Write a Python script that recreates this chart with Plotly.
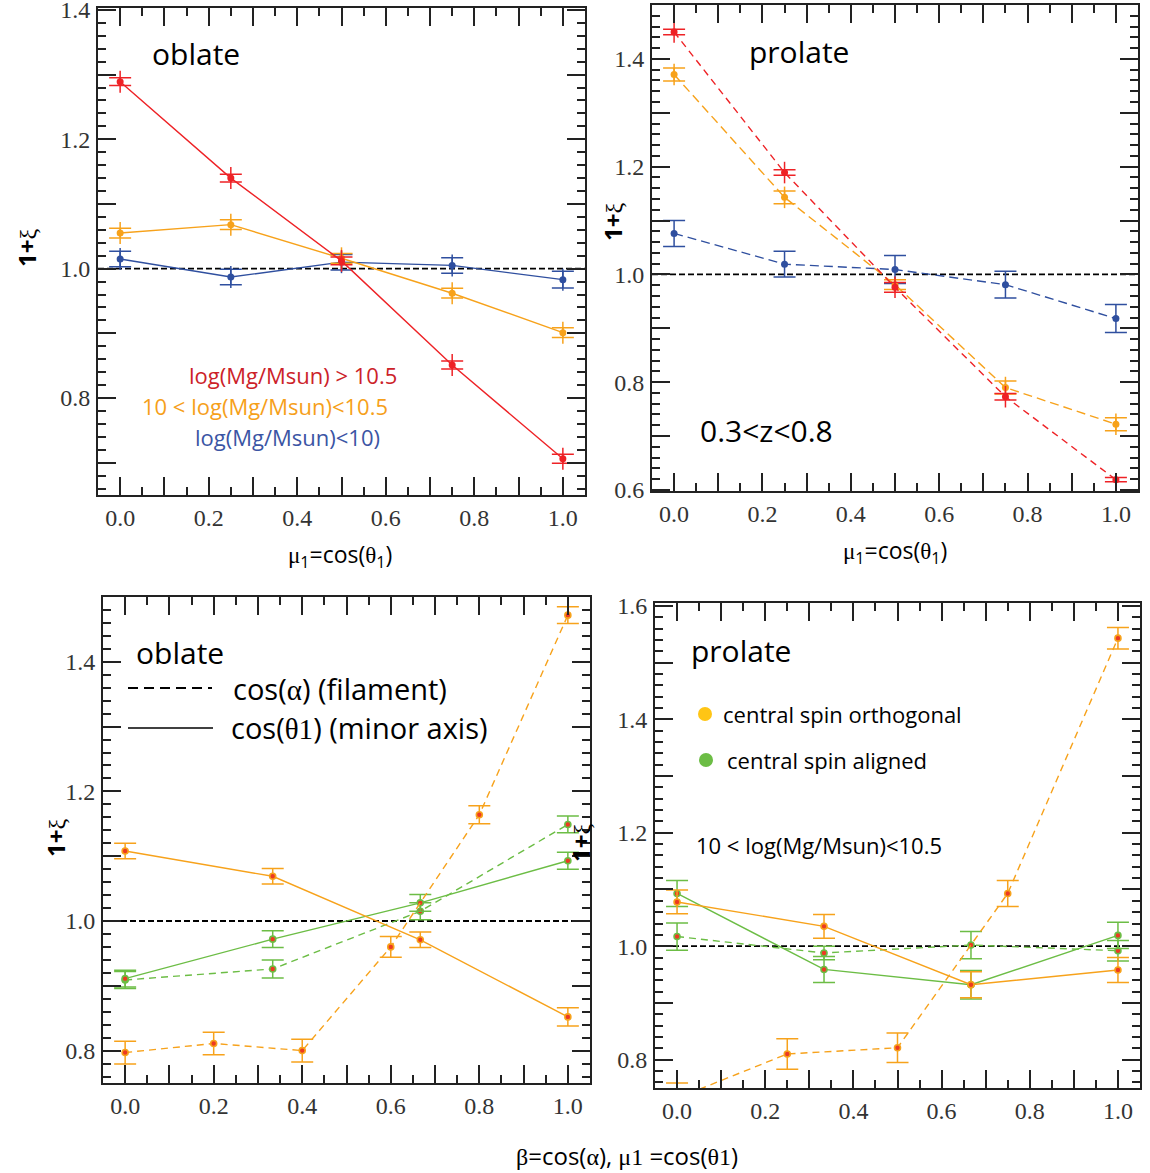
import plotly.graph_objects as go

W, H = 1150, 1173

# ---------------- data ----------------
mu = [0.0, 0.25, 0.5, 0.75, 1.0]

# top-left: oblate, 1+xi vs mu1 (three stellar-mass bins)
tl_red = [1.289, 1.140, 1.012, 0.851, 0.706]
tl_orange = [1.055, 1.068, 1.016, 0.962, 0.901]
tl_blue = [1.015, 0.987, 1.010, 1.005, 0.983]
tl_red_err = [0.017, 0.017, 0.017, 0.017, 0.017]
tl_red_cap = [0.006, 0.006, 0.006, 0.006, 0.007]
tl_orange_err = [0.017, 0.017, 0.017, 0.017, 0.017]
tl_orange_cap = [0.0075, 0.0075, 0.0075, 0.0075, 0.0075]
tl_blue_err = [0.017, 0.017, 0.017, 0.017, 0.017]
tl_blue_cap = [0.012, 0.012, 0.012, 0.012, 0.013]

# top-right: prolate
tr_red = [1.450, 1.189, 0.976, 0.773, 0.619]
tr_orange = [1.371, 1.143, 0.981, 0.790, 0.722]
tr_blue = [1.076, 1.019, 1.009, 0.981, 0.918]
tr_red_err = [0.02, 0.02, 0.02, 0.02, 0.012]
tr_red_cap = [0.005, 0.005, 0.009, 0.006, 0.004]
tr_orange_err = [0.02, 0.02, 0.012, 0.02, 0.02]
tr_orange_cap = [0.012, 0.012, 0.009, 0.012, 0.012]
tr_blue_err = [0.024, 0.024, 0.026, 0.025, 0.026]

# bottom panels: x = beta = cos(alpha) or mu1 = cos(theta1)
b3 = [0.0, 1 / 3, 2 / 3, 1.0]
b5 = [0.0, 0.2, 0.4, 0.6, 0.8, 1.0]
b4 = [0.0, 0.25, 0.5, 0.75, 1.0]

# bottom-left: oblate
bl_orth_theta = [1.108, 1.069, 0.971, 0.852]
bl_orth_theta_err = [0.012, 0.012, 0.012, 0.014]
bl_align_theta = [0.911, 0.972, 1.028, 1.093]
bl_align_theta_err = [0.013, 0.013, 0.013, 0.013]
bl_align_alpha = [0.909, 0.926, 1.015, 1.149]
bl_align_alpha_err = [0.013, 0.014, 0.013, 0.013]
bl_orth_alpha = [0.797, 0.811, 0.800, 0.960, 1.164, 1.472]
bl_orth_alpha_err = [0.0175, 0.0175, 0.0175, 0.016, 0.014, 0.013]

# bottom-right: prolate
br_orth_theta = [1.078, 1.035, 0.932, 0.958]
br_orth_theta_err = [0.021, 0.021, 0.023, 0.022]
br_align_theta = [1.093, 0.959, 0.932, 1.019]
br_align_theta_err = [0.023, 0.023, 0.025, 0.023]
br_align_alpha = [1.017, 0.988, 1.002, 0.992]
br_align_alpha_err = [0.024, 0.012, 0.024, 0.018]
br_orth_alpha = [0.732, 0.810, 0.821, 1.093, 1.543]
br_orth_alpha_err = [0.027, 0.027, 0.026, 0.023, 0.019]

# ticks
x_tickvals = [0.0, 0.1, 0.2, 0.3, 0.4, 0.5, 0.6, 0.7, 0.8, 0.9, 1.0]
x_ticktext = ["0.0", "", "0.2", "", "0.4", "", "0.6", "", "0.8", "", "1.0"]
y_tickvals = [0.6, 0.7, 0.8, 0.9, 1.0, 1.1, 1.2, 1.3, 1.4, 1.5, 1.6]
y_ticktext = ["0.6", "", "0.8", "", "1.0", "", "1.2", "", "1.4", "", "1.6"]

# ---------------- style ----------------
RED = "#ee2226"
ORANGE = "#f7a21b"
BLUE = "#2f4f9f"
GREEN = "#6cbd45"
YELLOW = "#ffc515"
SANS = "Open Sans"
SERIF = "Liberation Serif"

fig = go.Figure()


def px(xp):
    return xp / W


def py(yp):
    return 1 - yp / H


def add_series(ax, xs, ys, err, color, dash, cap=None, marker="solid", capw=11):
    xa = "x" if ax == 1 else "x%d" % ax
    ya = "y" if ax == 1 else "y%d" % ax
    if marker == "solid":
        mk = dict(size=7, color=color, line=dict(width=0))
    else:
        mk = dict(size=6, color="#ec3a22", line=dict(width=1.6, color=color))
    fig.add_trace(go.Scatter(
        x=xs, y=ys, xaxis=xa, yaxis=ya, mode="lines+markers",
        line=dict(color=color, width=1.4, dash=dash), marker=mk,
        error_y=dict(type="data", array=err, visible=True, color=color,
                     thickness=1.5, width=0 if cap is not None else capw),
        hoverinfo="skip"))
    if cap is not None:
        fig.add_trace(go.Scatter(
            x=xs, y=ys, xaxis=xa, yaxis=ya, mode="markers",
            marker=dict(size=1, color="rgba(0,0,0,0)"),
            error_y=dict(type="data", array=cap, visible=True, color=color,
                         thickness=1.5, width=capw),
            hoverinfo="skip"))


# reference lines at 1 (drawn first)
for ax in (1, 2, 3, 4):
    xa = "x" if ax == 1 else "x%d" % ax
    ya = "y" if ax == 1 else "y%d" % ax
    fig.add_trace(go.Scatter(x=[-0.05, 1.05], y=[1.0, 1.0], xaxis=xa, yaxis=ya,
                             mode="lines", line=dict(color="black", width=1.8, dash="6px,3px"),
                             hoverinfo="skip"))

# top-left
add_series(1, mu, tl_blue, tl_blue_err, BLUE, "solid", cap=tl_blue_cap)
add_series(1, mu, tl_orange, tl_orange_err, ORANGE, "solid", cap=tl_orange_cap)
add_series(1, mu, tl_red, tl_red_err, RED, "solid", cap=tl_red_cap)
# top-right
add_series(2, mu, tr_blue, tr_blue_err, BLUE, "9px,5px")
add_series(2, mu, tr_orange, tr_orange_err, ORANGE, "9px,5px", cap=tr_orange_cap)
add_series(2, mu, tr_red, tr_red_err, RED, "7px,5px", cap=tr_red_cap)
# bottom-left
add_series(3, b3, bl_align_alpha, bl_align_alpha_err, GREEN, "7px,5px", marker="ring")
add_series(3, b3, bl_align_theta, bl_align_theta_err, GREEN, "solid", marker="ring")
add_series(3, b5, bl_orth_alpha, bl_orth_alpha_err, ORANGE, "7px,5px", marker="ring")
add_series(3, b3, bl_orth_theta, bl_orth_theta_err, ORANGE, "solid", marker="ring")
# bottom-right
add_series(4, b3, br_align_alpha, br_align_alpha_err, GREEN, "7px,5px", marker="ring")
add_series(4, b3, br_align_theta, br_align_theta_err, GREEN, "solid", marker="ring")
add_series(4, b4, br_orth_alpha, br_orth_alpha_err, ORANGE, "7px,5px", marker="ring")
add_series(4, b3, br_orth_theta, br_orth_theta_err, ORANGE, "solid", marker="ring")

# ---------------- axes ----------------
panels = {
    1: dict(x=(98, 585), y=(8, 495), yr=(0.65, 1.403)),
    2: dict(x=(652, 1138), y=(5, 491), yr=(0.598, 1.50)),
    3: dict(x=(103, 590), y=(597, 1083), yr=(0.75, 1.50)),
    4: dict(x=(655, 1140), y=(603, 1088), yr=(0.75, 1.605)),
}
tickfont = dict(family=SERIF, size=24, color="#333333")
common = dict(showline=True, linecolor="#222222", linewidth=2, mirror="allticks",
              ticks="inside", tickcolor="#222222", tickwidth=1.5, ticklen=18,
              showgrid=False, zeroline=False, tickfont=tickfont, automargin=False,
              ticklabeloverflow="allow")
for k, p in panels.items():
    xn = "xaxis" if k == 1 else "xaxis%d" % k
    yn = "yaxis" if k == 1 else "yaxis%d" % k
    ya = "y" if k == 1 else "y%d" % k
    xa = "x" if k == 1 else "x%d" % k
    fig.layout[xn] = dict(
        domain=[px(p["x"][0]), px(p["x"][1])], anchor=ya, range=[-0.05, 1.05],
        tickmode="array", tickvals=x_tickvals, ticktext=x_ticktext,
        ticklabelstandoff=0,
        minor=dict(ticks="inside", dtick=0.05, tick0=0, ticklen=8,
                   tickcolor="#222222", tickwidth=1.5, showgrid=False),
        **common)
    fig.layout[yn] = dict(
        domain=[py(p["y"][1]), py(p["y"][0])], anchor=xa, range=list(p["yr"]),
        tickmode="array", tickvals=y_tickvals, ticktext=y_ticktext,
        ticklabelstandoff=1,
        minor=dict(ticks="inside", dtick=0.02, tick0=0, ticklen=8,
                   tickcolor="#222222", tickwidth=1.5, showgrid=False),
        **common)

# ---------------- text ----------------
ann = []


def text(xp, yp, s, size=22, color="black", family=SANS, xanchor="center", angle=0):
    ann.append(dict(x=px(xp), y=py(yp), xref="paper", yref="paper", text=s,
                    showarrow=False, xanchor=xanchor, yanchor="middle",
                    textangle=angle, font=dict(family=family, size=size, color=color)))


def g(ch):
    return '<span style="font-family:Liberation Serif">%s</span>' % ch


xi_title = '<b>1+</b>' + g("ξ")
mu_title = g("μ") + '<sub>1</sub>=cos(' + g("θ") + '<sub>1</sub>)'

# axis titles
text(340, 555, mu_title, size=23)
text(895, 551, mu_title, size=23)
text(627, 1155, g("β") + "=cos(" + g("α") + ")," + g(" μ1") + " =cos(" + g("θ1") + ")", size=24)
text(26, 248, xi_title, size=24, angle=-90)
text(612, 222, xi_title, size=24, angle=-90)
text(55, 838, xi_title, size=24, angle=-90)
text(580, 843, xi_title, size=24, angle=-90)

# top-left labels
text(196, 53, "oblate", size=30)
text(293, 375, "log(Mg/Msun) &gt; 10.5", size=22, color="#cc2229")
text(265, 406, "10 &lt; log(Mg/Msun)&lt;10.5", size=22, color="#f6a01a")
text(287, 437, "log(Mg/Msun)&lt;10)", size=22, color="#3b55a4")

# top-right labels
text(799, 52, "prolate", size=30)
text(766, 431, "0.3&lt;z&lt;0.8", size=30)

# bottom-left labels
text(180, 652, "oblate", size=30)
text(231, 688, "cos(" + g("α") + ") (filament)", size=29, xanchor="left")
text(229, 728, "cos(" + g("θ1") + ") (minor axis)", size=29, xanchor="left")

# bottom-right labels
text(741, 650, "prolate", size=30)
text(721, 714, "central spin orthogonal", size=22, xanchor="left")
text(725, 760, "central spin aligned", size=22, xanchor="left")
text(694, 845, "10 &lt; log(Mg/Msun)&lt;10.5", size=22, xanchor="left")

shapes = [
    dict(type="line", xref="paper", yref="paper", x0=px(128), x1=px(212), y0=py(688), y1=py(688),
         line=dict(color="black", width=2, dash="10px,6px")),
    dict(type="line", xref="paper", yref="paper", x0=px(128), x1=px(213), y0=py(728), y1=py(728),
         line=dict(color="black", width=1.3)),
    dict(type="circle", xref="paper", yref="paper", xsizemode="pixel", ysizemode="pixel",
         xanchor=px(705), yanchor=py(714), x0=-7, x1=7, y0=-7, y1=7,
         fillcolor=YELLOW, line=dict(width=0)),
    dict(type="circle", xref="paper", yref="paper", xsizemode="pixel", ysizemode="pixel",
         xanchor=px(706), yanchor=py(760), x0=-7, x1=7, y0=-7, y1=7,
         fillcolor=GREEN, line=dict(width=0)),
]

fig.update_layout(width=W, height=H, margin=dict(l=0, r=0, t=0, b=0, autoexpand=False),
                  paper_bgcolor="white", plot_bgcolor="white", showlegend=False,
                  annotations=ann, shapes=shapes)

fig.write_html(
    "out.html",
    config={"responsive": False, "displayModeBar": False},
    post_script=(
        "document.documentElement.style.margin='0px';"
        "document.documentElement.style.overflow='hidden';"
        "document.body.style.margin='0px';"
        "document.body.style.overflow='hidden';"
        "var gd=document.getElementById('{plot_id}');"
        "gd.style.position='absolute';gd.style.left='0px';gd.style.top='0px';"
    ),
)
